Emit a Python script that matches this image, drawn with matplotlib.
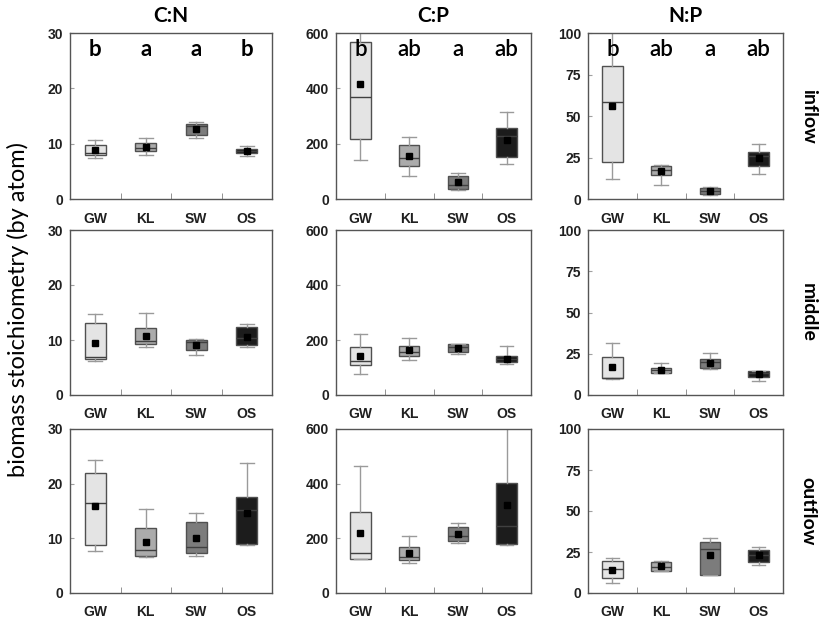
import matplotlib.pyplot as plt

# categories and panel names
sites = ['GW', 'KL', 'SW', 'OS']
ratios = ['C:N', 'C:P', 'N:P']
zones = ['inflow', 'middle', 'outflow']
ylims = [30, 600, 100]
yticks = [[0, 10, 20, 30], [0, 200, 400, 600], [0, 25, 50, 75, 100]]
box_colors = ['#e4e4e4', '#ababab', '#7c7c7c', '#1c1c1c']

# box statistics per site: [whisker low, q1, median, q3, whisker high, mean]
cn_inflow = [[7.5, 8.0, 8.3, 9.7, 10.7, 8.8],
             [7.9, 8.7, 9.3, 10.1, 11.1, 9.4],
             [11.0, 11.6, 13.2, 13.6, 13.9, 12.6],
             [7.7, 8.4, 8.7, 9.1, 9.6, 8.7]]
cp_inflow = [[141, 218, 367, 567, 640, 416],
             [82, 120, 148, 196, 224, 157],
             [34, 37, 49, 82, 94, 60],
             [125, 153, 228, 256, 316, 215]]
np_inflow = [[12, 22, 58.7, 80, 105, 56],
             [8.5, 14.6, 17.3, 19.7, 20.7, 16.7],
             [2.4, 2.8, 4.9, 6.5, 7.1, 5.1],
             [15, 20.1, 25.8, 28.3, 33.3, 24.8]]

cn_middle = [[6.1, 6.5, 7.0, 13.1, 14.8, 9.4],
             [8.7, 9.3, 9.9, 12.2, 15.0, 10.8],
             [7.3, 8.2, 9.7, 10.0, 10.2, 9.1],
             [8.7, 9.1, 10.3, 12.3, 12.9, 10.6]]
cp_middle = [[75, 109, 125, 176, 222, 142],
             [127, 143, 155, 180, 209, 165],
             [148, 158, 174, 184, 186, 171],
             [114, 119, 131, 141, 180, 131]]
np_middle = [[9.6, 10.2, 10.6, 22.9, 31.6, 17.1],
             [13.3, 13.3, 15.3, 16.3, 19.4, 15.3],
             [15.7, 16.1, 19.8, 21.8, 25.5, 19.6],
             [8.6, 11.0, 13.3, 14.7, 14.7, 13.0]]

cn_outflow = [[7.7, 8.7, 16.5, 21.9, 24.3, 16.0],
              [6.6, 6.7, 7.8, 11.9, 15.3, 9.4],
              [6.7, 7.3, 8.5, 13.0, 14.6, 10.0],
              [8.7, 9.0, 15.2, 17.6, 23.8, 14.6]]
cp_outflow = [[123, 123, 145, 298, 465, 221],
              [111, 119, 133, 168, 207, 145],
              [184, 191, 208, 242, 255, 216],
              [176, 178, 245, 402, 640, 323]]
np_outflow = [[6.1, 9.0, 14.7, 19.6, 21.4, 14.1],
              [13.3, 13.3, 16.1, 18.8, 19.4, 16.3],
              [11.2, 11.2, 26.9, 31.0, 33.5, 22.9],
              [17.3, 19.2, 22.9, 26.5, 28.0, 22.9]]

panel_data = [[cn_inflow, cp_inflow, np_inflow],
              [cn_middle, cp_middle, np_middle],
              [cn_outflow, cp_outflow, np_outflow]]

# significance letters (inflow row only)
letters = [['b', 'a', 'a', 'b'],
           ['b', 'ab', 'a', 'ab'],
           ['b', 'ab', 'a', 'ab']]

W, H = 827, 619
col_px = [(70, 272), (336, 531), (588, 783)]
row_px = [(33, 199), (230, 395), (429, 593)]

fig = plt.figure(figsize=(W / 100, H / 100), dpi=100)
fig.patch.set_facecolor('white')
pos = [1, 2, 3, 4]

for r in range(3):
    for c in range(3):
        x0, x1 = col_px[c]
        y0, y1 = row_px[r]
        ax = fig.add_axes([x0 / W, 1 - y1 / H, (x1 - x0) / W, (y1 - y0) / H])
        stats = []
        for s, v in zip(sites, panel_data[r][c]):
            stats.append(dict(whislo=v[0], q1=v[1], med=v[2], q3=v[3],
                              whishi=v[4], mean=v[5], label=s, fliers=[]))
        bp = ax.bxp(stats, positions=pos, widths=0.42, capwidths=0.28,
                    showmeans=True, patch_artist=True, showfliers=False,
                    boxprops=dict(edgecolor='#505050', linewidth=1.0),
                    medianprops=dict(color='#404040', linewidth=1.0),
                    whiskerprops=dict(color='#9a9a9a', linewidth=1.0),
                    capprops=dict(color='#9a9a9a', linewidth=1.0),
                    meanprops=dict(marker='s', markerfacecolor='black',
                                   markeredgecolor='black', markersize=5))
        for patch, col in zip(bp['boxes'], box_colors):
            patch.set_facecolor(col)
        ax.set_xlim(0.5, 4.5)
        ax.set_ylim(0, ylims[c])
        ax.set_yticks(yticks[c])
        ax.set_xticks(pos)
        ax.set_xticklabels(sites)
        ax.set_xticks([1.5, 2.5, 3.5], minor=True)
        ax.tick_params(axis='x', which='major', length=0, pad=9)
        ax.tick_params(axis='x', which='minor', direction='in', length=4,
                       color='#808080')
        ax.tick_params(axis='y', direction='in', length=3, color='#a0a0a0',
                       pad=5)
        for lab in ax.get_xticklabels() + ax.get_yticklabels():
            lab.set_fontsize(10)
            lab.set_family('Liberation Sans')
            lab.set_fontweight('bold')
            lab.set_color('#202020')
        for sp in ax.spines.values():
            sp.set_color('#555555')
            sp.set_linewidth(1.0)
        if r == 0:
            ax.set_title(ratios[c], fontsize=15, fontweight='bold',
                         family='Lato', pad=8)
            for p, t in zip(pos, letters[c]):
                ax.text(p, 0.9, t, transform=ax.get_xaxis_transform(),
                        ha='center', va='center', fontsize=16,
                        family='Lato',
                        fontweight='bold' if c == 0 else 'semibold')
        if c == 2:
            ax.text(1.13, 0.5, zones[r], transform=ax.transAxes,
                    rotation=-90, ha='center', va='center', fontsize=14,
                    family='Lato', fontweight='bold')

fig.text(0.022, 0.5, 'biomass stoichiometry (by atom)', rotation=90,
         ha='center', va='center', fontsize=17, family='Lato')

fig.savefig('out.png', dpi=100)
